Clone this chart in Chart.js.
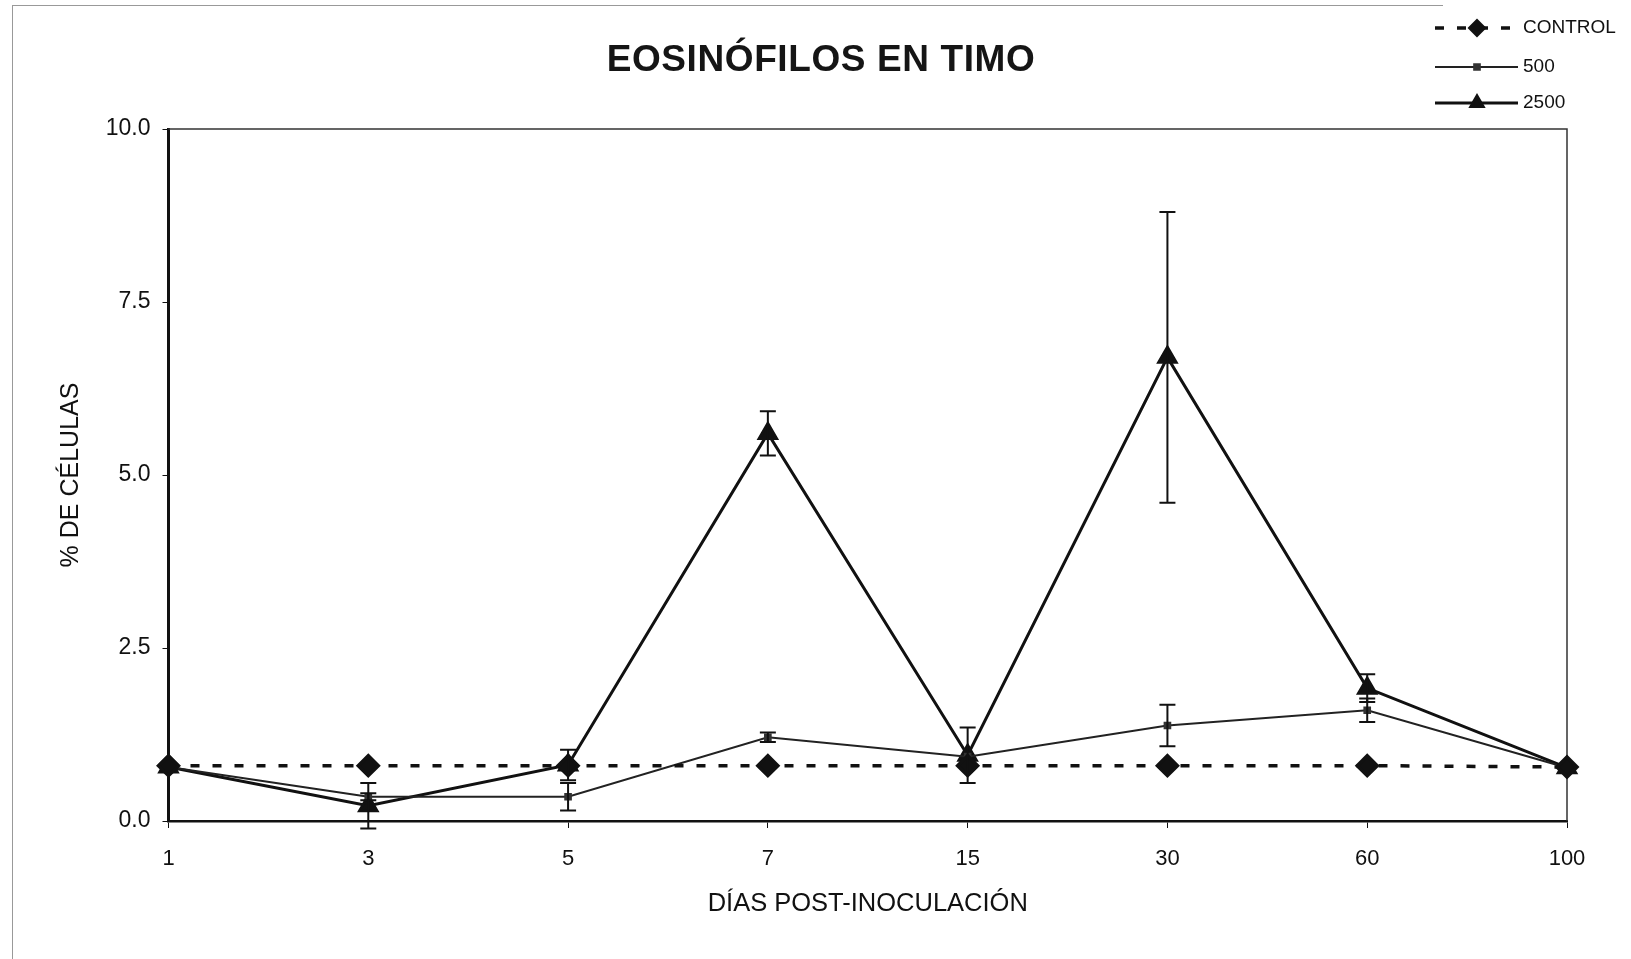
<!DOCTYPE html>
<html>
<head>
<meta charset="utf-8">
<title>Eosinófilos en timo</title>
<script src="https://cdn.jsdelivr.net/npm/chart.js@4.4.1/dist/chart.umd.min.js"></script>
<style>
  html, body { margin: 0; padding: 0; background: #fff; }
  #wrap { position: relative; width: 1631px; height: 959px; }
  #frame { position: absolute; left: 12px; top: 5px; width: 1430px; height: 954px;
           border-left: 1px solid #999; border-top: 1px solid #999; }
</style>
</head>
<body>
<div id="wrap">
  <div id="frame"></div>
  <canvas id="eosChart"></canvas>
</div>
<script>
// Datos
var titulo = 'EOSINÓFILOS EN TIMO';
var dias = ['1', '3', '5', '7', '15', '30', '60', '100'];
var control = [0.8, 0.8, 0.8, 0.8, 0.8, 0.8, 0.8, 0.78];
var controlErr = [0, 0, 0, 0, 0, 0, 0, 0];
var dosis500 = [0.78, 0.35, 0.35, 1.21, 0.93, 1.38, 1.6, 0.77];
var dosis500Err = [0, 0.05, 0.2, 0.07, 0, 0.3, 0.17, 0];
var dosis2500 = [0.78, 0.22, 0.81, 5.6, 0.95, 6.7, 1.92, 0.77];
var dosis2500Err = [0, 0.33, 0.22, 0.32, 0.4, 2.1, 0.2, 0];
var yTicks = [0, 2.5, 5, 7.5, 10];

var fuente = "'Liberation Sans', Arial, sans-serif";

// Barras de error (desviación) dibujadas con la escala Y
var errorBars = {
    id: 'errorBars',
    afterDatasetsDraw: function(chart) {
        var ctx = chart.ctx;
        var yScale = chart.scales.y;
        chart.data.datasets.forEach(function(ds, i) {
            var meta = chart.getDatasetMeta(i);
            if (!ds.errors) return;
            ctx.save();
            ctx.strokeStyle = '#111';
            ctx.lineWidth = 2;
            meta.data.forEach(function(pt, j) {
                var e = ds.errors[j];
                if (!e) return;
                var yTop = yScale.getPixelForValue(ds.data[j] + e);
                var yBot = yScale.getPixelForValue(ds.data[j] - e);
                ctx.beginPath();
                ctx.moveTo(pt.x, yTop); ctx.lineTo(pt.x, yBot);
                ctx.moveTo(pt.x - 8, yTop); ctx.lineTo(pt.x + 8, yTop);
                ctx.moveTo(pt.x - 8, yBot); ctx.lineTo(pt.x + 8, yBot);
                ctx.stroke();
            });
            ctx.restore();
        });
    }
};

// Marco superior y derecho del área del gráfico
var marco = {
    id: 'marco',
    beforeDatasetsDraw: function(chart) {
        var a = chart.chartArea;
        var ctx = chart.ctx;
        ctx.save();
        ctx.strokeStyle = '#333';
        ctx.lineWidth = 1.5;
        ctx.beginPath();
        ctx.moveTo(a.left, a.top);
        ctx.lineTo(a.right, a.top);
        ctx.lineTo(a.right, a.bottom);
        ctx.stroke();
        ctx.restore();
    }
};

// Título centrado sobre la figura
var tituloPlugin = {
    id: 'tituloPlugin',
    afterDraw: function(chart) {
        var ctx = chart.ctx;
        ctx.save();
        ctx.fillStyle = '#151515';
        ctx.font = 'bold 37px ' + fuente;
        ctx.letterSpacing = '0.6px';
        ctx.textAlign = 'center';
        ctx.textBaseline = 'middle';
        ctx.fillText(titulo, 821, 61);
        ctx.restore();
    }
};

// Leyenda en la esquina superior derecha
var leyenda = {
    id: 'leyenda',
    afterDraw: function(chart) {
        var ctx = chart.ctx;
        var x0 = 1435, x1 = 1518, xm = 1477, xt = 1523;
        var filas = [28, 67, 103];
        ctx.save();
        chart.data.datasets.forEach(function(ds, i) {
            var y = filas[i];
            ctx.strokeStyle = ds.borderColor;
            ctx.lineWidth = ds.borderWidth;
            ctx.setLineDash(ds.borderDash || []);
            ctx.beginPath();
            ctx.moveTo(x0, y); ctx.lineTo(x1, y);
            ctx.stroke();
            ctx.setLineDash([]);
            ctx.fillStyle = ds.pointBackgroundColor;
            ctx.strokeStyle = ds.pointBorderColor;
            Chart.helpers.drawPoint(ctx, {
                pointStyle: ds.pointStyle,
                radius: Math.min(ds.pointRadius, 7),
                rotation: 0,
                borderWidth: 1
            }, xm, y);
            ctx.fillStyle = '#111';
            ctx.font = '19px ' + fuente;
            ctx.textBaseline = 'middle';
            ctx.textAlign = 'left';
            ctx.fillText(ds.label, xt, y);
        });
        ctx.restore();
    }
};

var ctx = document.getElementById('eosChart').getContext('2d');
new Chart(ctx, {
    type: 'line',
    data: {
        labels: dias,
        datasets: [{
            label: 'CONTROL',
            data: control,
            errors: controlErr,
            borderColor: '#111',
            borderWidth: 3.5,
            borderDash: [9, 13],
            pointStyle: 'rectRot',
            pointRadius: 10,
            pointBackgroundColor: '#111',
            pointBorderColor: '#111',
            tension: 0
        }, {
            label: '500',
            data: dosis500,
            errors: dosis500Err,
            borderColor: '#222',
            borderWidth: 2,
            pointStyle: 'rect',
            pointRadius: 4,
            pointBackgroundColor: '#333',
            pointBorderColor: '#333',
            tension: 0
        }, {
            label: '2500',
            data: dosis2500,
            errors: dosis2500Err,
            borderColor: '#111',
            borderWidth: 3,
            pointStyle: 'triangle',
            pointRadius: 10,
            pointBackgroundColor: '#111',
            pointBorderColor: '#111',
            tension: 0
        }]
    },
    options: {
        responsive: true,
        maintainAspectRatio: false,
        animation: false,
        layout: { padding: { left: 0, right: 64, top: 129, bottom: 0 } },
        plugins: {
            legend: { display: false },
            tooltip: { enabled: false },
            title: { display: false }
        },
        scales: {
            x: {
                offset: false,
                grid: { display: true, drawOnChartArea: false, drawTicks: true, tickLength: 7, color: '#111' },
                border: { display: true, color: '#111', width: 2.5 },
                ticks: { color: '#111', font: { family: fuente, size: 22 }, padding: 18, maxRotation: 0 },
                title: {
                    display: true,
                    text: 'DÍAS POST-INOCULACIÓN',
                    color: '#111',
                    font: { family: fuente, size: 25.5 },
                    padding: { top: 0, bottom: 40 }
                },
                afterFit: function(scale) { scale.height = 138; }
            },
            y: {
                min: 0,
                max: 10,
                afterBuildTicks: function(scale) {
                    scale.ticks = yTicks.map(function(v) { return { value: v }; });
                },
                grid: { display: true, drawOnChartArea: false, drawTicks: true, tickLength: 6, color: '#111' },
                border: { display: true, color: '#111', width: 3 },
                ticks: {
                    color: '#111',
                    font: { family: fuente, size: 23 },
                    padding: 12,
                    callback: function(v) { return Number(v).toFixed(1); }
                },
                title: {
                    display: true,
                    text: '% DE CÉLULAS',
                    color: '#111',
                    font: { family: fuente, size: 25 },
                    padding: { top: 56, bottom: 0 }
                },
                afterFit: function(scale) { scale.width = 168.5; }
            }
        }
    },
    plugins: [marco, errorBars, tituloPlugin, leyenda]
});
</script>
</body>
</html>
